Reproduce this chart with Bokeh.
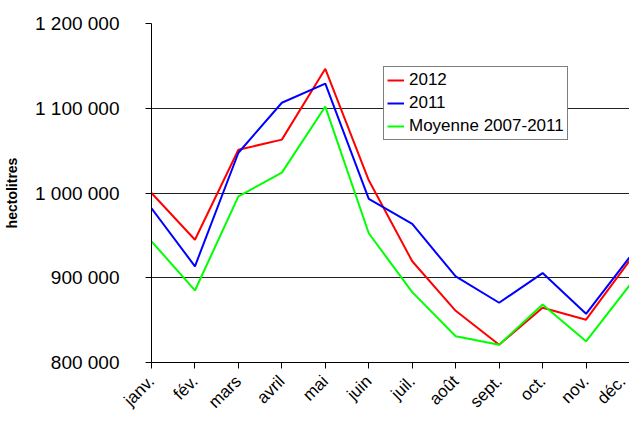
from bokeh.plotting import figure
from bokeh.models import Range1d, FixedTicker
from bokeh.embed import file_html
from bokeh.resources import INLINE
import math

months = ["janv.", "fév.", "mars", "avril", "mai", "juin", "juil.", "août",
          "sept.", "oct.", "nov.", "déc."]
v2012 = [1000000, 944800, 1051000, 1063000, 1146500, 1015000, 919500, 861000,
         821000, 864500, 850500, 920000]
v2011 = [982000, 913500, 1047500, 1106500, 1129000, 993000, 963500, 901500,
         870500, 905500, 857500, 924000]
moyenne = [943000, 885000, 996000, 1024000, 1102000, 952500, 883000, 831000,
           821000, 868500, 825000, 891000]
y_ticks = [800000, 900000, 1000000, 1100000, 1200000]
y_tick_labels = ["800 000", "900 000", "1 000 000", "1 100 000", "1 200 000"]

FONT = "Liberation Sans"
x = list(range(len(months)))

p = figure(width=629, height=421, output_backend="svg", toolbar_location=None,
           x_range=Range1d(0, len(months) - 1), y_range=Range1d(y_ticks[0], y_ticks[-1]),
           min_border_left=150, min_border_top=23, min_border_right=0, min_border_bottom=59)
p.outline_line_color = None
p.background_fill_color = "white"
p.border_fill_color = "white"

p.line(x, v2012, line_color="#FF0000", line_width=2, legend_label="2012")
p.line(x, v2011, line_color="#0000FF", line_width=2, legend_label="2011")
p.line(x, moyenne, line_color="#00FF00", line_width=2, legend_label="Moyenne 2007-2011")

# axes
p.xaxis.ticker = FixedTicker(ticks=x)
p.xaxis.major_label_overrides = {i: m for i, m in enumerate(months)}
p.xaxis.major_label_orientation = math.pi / 4
p.xaxis.major_label_text_font = FONT
p.xaxis.major_label_text_font_size = "17px"
p.xaxis.major_label_text_color = "black"
p.xaxis.major_label_standoff = 10
p.xaxis.major_tick_out = 6
p.xaxis.major_tick_in = 0
p.xaxis.minor_tick_line_color = None
p.xaxis.axis_line_color = "black"
p.xaxis.major_tick_line_color = "black"

p.yaxis.ticker = FixedTicker(ticks=y_ticks)
p.yaxis.major_label_overrides = {t: l for t, l in zip(y_ticks, y_tick_labels)}
p.yaxis.major_label_text_font = FONT
p.yaxis.major_label_text_font_size = "19px"
p.yaxis.major_label_text_color = "black"
p.yaxis.major_label_standoff = 26
p.yaxis.major_tick_out = 6
p.yaxis.major_tick_in = 0
p.yaxis.minor_tick_line_color = None
p.yaxis.axis_line_color = "black"
p.yaxis.major_tick_line_color = "black"
p.yaxis.axis_label = "hectolitres"
p.yaxis.axis_label_text_font = FONT
p.yaxis.axis_label_text_font_size = "14px"
p.yaxis.axis_label_text_font_style = "bold"
p.yaxis.axis_label_text_color = "black"
p.yaxis.axis_label_standoff = 12

p.xgrid.grid_line_color = None
p.ygrid.grid_line_color = "#222222"
p.ygrid.grid_line_width = 1

leg = p.legend[0]
leg.location = (232, 222)
leg.label_text_font = FONT
leg.label_text_font_size = "17px"
leg.label_text_color = "black"
leg.glyph_width = 17
leg.glyph_height = 20
leg.label_height = 20
leg.label_standoff = 5
leg.spacing = 3
leg.padding = 3
leg.margin = 0
leg.border_line_color = "black"
leg.border_line_width = 1
leg.background_fill_color = "white"
leg.background_fill_alpha = 1

open("out.html", "w").write(file_html(p, INLINE))
